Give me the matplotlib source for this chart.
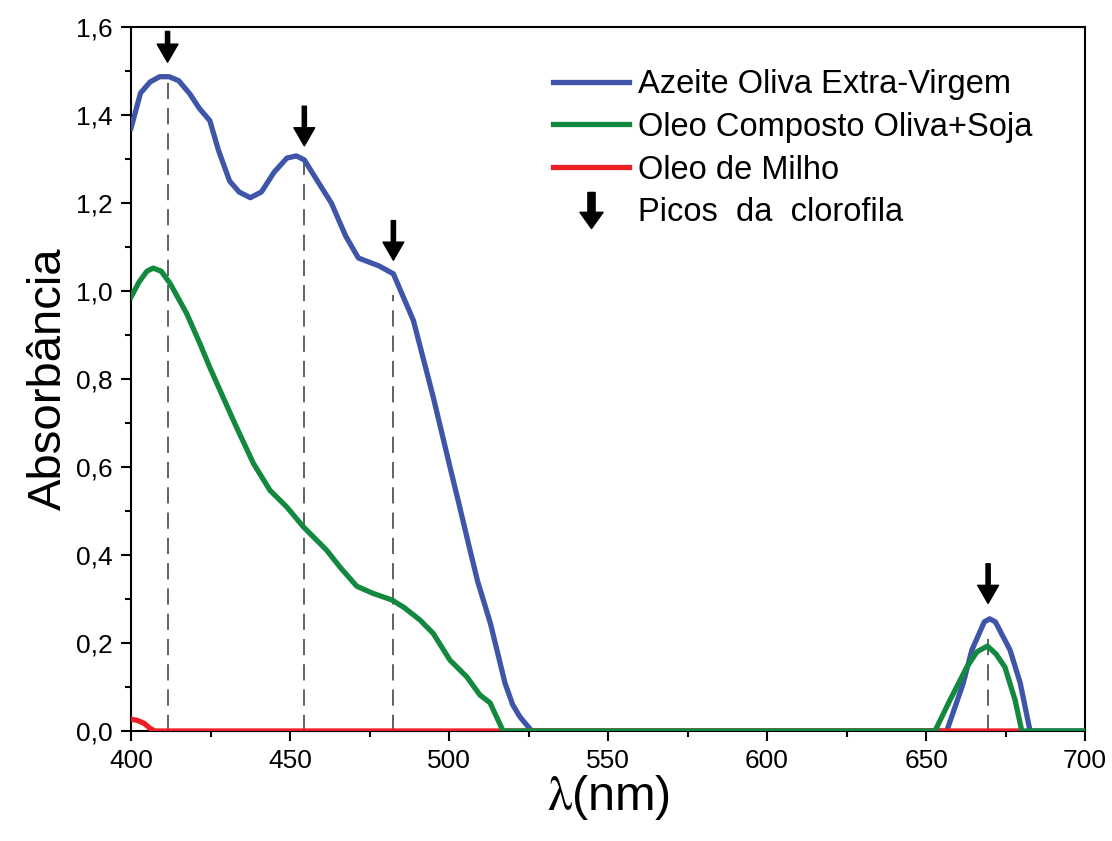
import matplotlib
matplotlib.use("Agg")
import matplotlib.pyplot as plt
from matplotlib.lines import Line2D
from matplotlib.path import Path
from matplotlib.ticker import MultipleLocator, FuncFormatter

# --- data ---
wl_azeite = [400, 401.5, 403, 406, 409, 412, 415, 418.5, 421.5, 424.8, 427.5, 431, 434,
             437.5, 441, 445, 449, 452, 454.5, 459.5, 463, 467.5, 471.5, 478, 482.5,
             488.8, 495, 500.3, 503, 506.6, 509, 513, 517.6, 520, 522.3, 526,
             656.5, 661.7, 664.4, 668.3, 670, 671.8, 676.4, 679.6, 682.7, 700]
abs_azeite = [1.37, 1.41, 1.45, 1.475, 1.487, 1.487, 1.478, 1.448, 1.415, 1.387, 1.32, 1.25, 1.225,
              1.212, 1.225, 1.27, 1.302, 1.307, 1.298, 1.24, 1.2, 1.125, 1.075, 1.057, 1.039,
              0.933, 0.76, 0.60, 0.52, 0.411, 0.34, 0.245, 0.109, 0.06, 0.032, 0.0,
              0.0, 0.109, 0.184, 0.248, 0.255, 0.248, 0.184, 0.109, 0.0, 0.0]

wl_composto = [400, 402.5, 405, 407, 409.5, 412.3, 417.5, 421.7, 424.8, 428, 433.2, 438.5,
               443.7, 449, 454.2, 461.5, 466, 471, 476, 482, 486, 490.9, 495, 500.3,
               505.6, 509.7, 512.9, 517, 652.8, 657.5, 662.8, 666, 669.3, 672, 674.8,
               678, 680.1, 700]
abs_composto = [0.986, 1.02, 1.045, 1.052, 1.045, 1.017, 0.949, 0.88, 0.826, 0.774, 0.69, 0.608,
                0.547, 0.509, 0.464, 0.411, 0.37, 0.329, 0.313, 0.298, 0.28, 0.252, 0.222, 0.161,
                0.123, 0.082, 0.064, 0.0, 0.0, 0.07, 0.145, 0.18, 0.193, 0.175, 0.145,
                0.07, 0.0, 0.0]

wl_milho = [400, 402, 404, 406, 407.5, 680]
abs_milho = [0.027, 0.024, 0.018, 0.006, 0.0, 0.0]

# chlorophyll peaks: dashed guide tops and arrow tail/tip
peak_nm = [411.5, 454.5, 482.5, 669.5]
guide_top = [1.48, 1.29, 0.99, 0.23]
arrow_tail = [1.59, 1.42, 1.16, 0.38]
arrow_tip = [1.52, 1.33, 1.07, 0.29]

labels = ["Azeite Oliva Extra-Virgem", "Oleo Composto Oliva+Soja", "Oleo de Milho",
          "Picos  da  clorofila"]

C_BLUE, C_GREEN, C_RED = "#3F56A8", "#13883F", "#EC2024"
LW = 3.8

plt.rcParams["font.family"] = ["Liberation Sans", "DejaVu Sans"]
plt.rcParams["mathtext.fontset"] = "stix"

fig = plt.figure(figsize=(11.12, 8.41), dpi=100)
ax = fig.add_axes([0.1178, 0.1308, 0.858, 0.8371])

ax.plot(wl_azeite, abs_azeite, color=C_BLUE, lw=LW, solid_joinstyle="round", zorder=3)
ax.plot(wl_milho, abs_milho, color=C_RED, lw=LW, zorder=4)
ax.plot(wl_composto, abs_composto, color=C_GREEN, lw=LW, solid_joinstyle="round", zorder=5)

for x, top in zip(peak_nm, guide_top):
    ax.plot([x, x], [0, top], color="#555555", lw=1.3, ls=(0, (9, 5)), zorder=2)
for x, t0, t1 in zip(peak_nm, arrow_tail, arrow_tip):
    ax.annotate("", xy=(x, t1), xytext=(x, t0),
                arrowprops=dict(width=3, headwidth=15, headlength=13, shrink=0,
                                color="black"), zorder=6)

ax.set_xlim(400, 700)
ax.set_ylim(0, 1.6)
ax.xaxis.set_major_locator(MultipleLocator(50))
ax.xaxis.set_minor_locator(MultipleLocator(25))
ax.yaxis.set_major_locator(MultipleLocator(0.2))
ax.yaxis.set_minor_locator(MultipleLocator(0.1))
ax.yaxis.set_major_formatter(FuncFormatter(lambda v, p: f"{v:.1f}".replace(".", ",")))
ax.tick_params(which="both", direction="out", width=1.5, top=False, right=False,
               labelsize=19, colors="black")
ax.tick_params(which="major", length=7, pad=6)
ax.tick_params(which="minor", length=4)
for s in ax.spines.values():
    s.set_linewidth(1.5)

ax.set_xlabel(r"$\mathrm{\lambda}$(nm)", fontsize=35, labelpad=0)
ax.set_ylabel("Absorbância", fontsize=34, labelpad=4)

arrow_marker = Path([(-0.1, 0.5), (0.1, 0.5), (0.1, -0.05), (0.32, -0.05), (0.0, -0.5),
                     (-0.32, -0.05), (-0.1, -0.05), (-0.1, 0.5)],
                    [Path.MOVETO] + [Path.LINETO] * 6 + [Path.CLOSEPOLY])
handles = [Line2D([], [], color=C_BLUE, lw=LW),
           Line2D([], [], color=C_GREEN, lw=LW),
           Line2D([], [], color=C_RED, lw=LW),
           Line2D([], [], ls="none", marker=arrow_marker, color="black", markersize=26)]
ax.legend(handles, labels, loc="upper left", bbox_to_anchor=(0.412, 0.982), frameon=False,
          fontsize=23.5, handlelength=2.3, handletextpad=0.3, labelspacing=0.36)

fig.savefig("out.png", dpi=100)
